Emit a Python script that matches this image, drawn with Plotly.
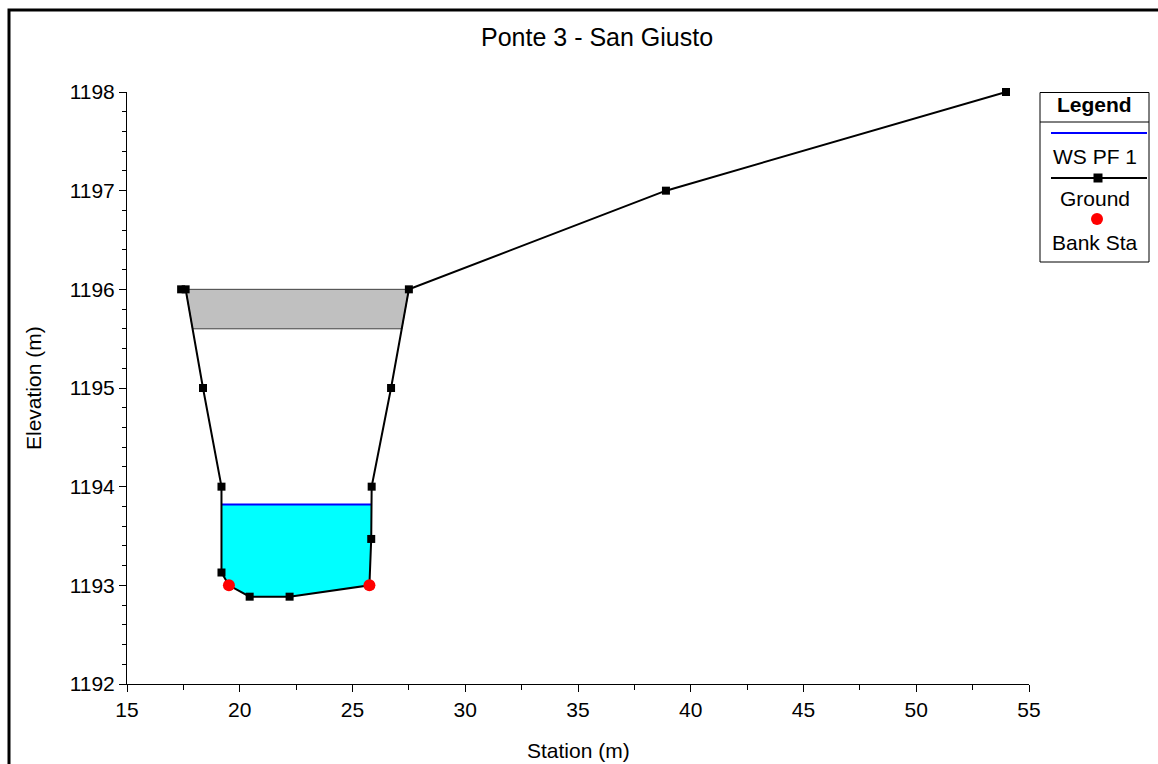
import numpy as np
import plotly.graph_objects as go

# ---- data ----
ground_sta = [17.4, 17.6, 18.37, 19.19, 19.19, 19.52, 20.44, 22.21, 25.75, 25.83, 25.85, 26.71, 27.5, 38.9, 53.98]
ground_elev = [1196.0, 1196.0, 1195.0, 1194.0, 1193.13, 1193.0, 1192.885, 1192.885, 1193.0, 1193.47, 1194.0, 1195.0, 1196.0, 1197.0, 1198.0]
bank_sta = [19.52, 25.75]
bank_elev = [1193.0, 1193.0]
ws_elev = 1193.82
deck_sta = [17.6, 27.5]
deck_high = 1196.0
deck_low = 1195.6
title_text = "Ponte 3 - San Giusto"
x_ticks = [15, 20, 25, 30, 35, 40, 45, 50, 55]
y_ticks = [1192, 1193, 1194, 1195, 1196, 1197, 1198]

FONT = "Liberation Sans, Arial, sans-serif"

gs = np.array(ground_sta)
ge = np.array(ground_elev)


def crossings(level, lo, hi):
    """Stations where the ground crosses a given elevation, within an index range."""
    pts = []
    for i in range(lo, hi):
        a, b = ge[i], ge[i + 1]
        if (a - level) * (b - level) <= 0 and a != b:
            t = (level - a) / (b - a)
            pts.append(gs[i] + t * (gs[i + 1] - gs[i]))
    return pts


# water polygon: ground points below WS between the channel walls
ch_lo, ch_hi = 3, 11
wx = crossings(ws_elev, ch_lo, ch_hi)
left_x, right_x = wx[0], wx[-1]
poly_x = [left_x]
poly_y = [ws_elev]
for s, e in zip(gs[ch_lo:ch_hi + 1], ge[ch_lo:ch_hi + 1]):
    if e < ws_elev:
        poly_x.append(s)
        poly_y.append(e)
poly_x += [right_x, left_x]
poly_y += [ws_elev, ws_elev]

# deck polygon: high chord to low chord, edges following ground
dl = crossings(deck_low, 1, 3)[0]
dr = crossings(deck_low, 11, 13)[0]
deck_x = [deck_sta[0], deck_sta[1], dr, dl, deck_sta[0]]
deck_y = [deck_high, deck_high, deck_low, deck_low, deck_high]

fig = go.Figure()
fig.add_trace(go.Scatter(x=deck_x, y=deck_y, mode="lines", fill="toself",
                         fillcolor="#c0c0c0", line=dict(color="#404040", width=1),
                         showlegend=False, hoverinfo="skip"))
fig.add_trace(go.Scatter(x=poly_x, y=poly_y, mode="lines", fill="toself",
                         fillcolor="#00ffff", line=dict(color="rgba(0,0,0,0)", width=0),
                         showlegend=False, hoverinfo="skip"))
fig.add_trace(go.Scatter(x=[left_x, right_x], y=[ws_elev, ws_elev], mode="lines",
                         line=dict(color="#0000ff", width=2), name="WS PF 1", showlegend=False))
fig.add_trace(go.Scatter(x=ground_sta, y=ground_elev, mode="lines+markers",
                         line=dict(color="black", width=2),
                         marker=dict(symbol="square", size=8, color="black"),
                         name="Ground", showlegend=False, cliponaxis=False))
fig.add_trace(go.Scatter(x=bank_sta, y=bank_elev, mode="markers",
                         marker=dict(symbol="circle", size=12, color="#ff0000"),
                         name="Bank Sta", showlegend=False, cliponaxis=False))

L, R, T, B = 127, 129, 92, 80
W, H = 1158, 764
PW, PH = W - L - R, H - T - B


def px(p):
    return (p - L) / PW


def py(q):
    return (H - B - q) / PH


shapes = []
annotations = []
# outer frame
shapes.append(dict(type="rect", xref="paper", yref="paper", x0=px(9), x1=px(1250),
                   y0=py(850), y1=py(10), line=dict(color="black", width=3)))
# legend box
lx0, lx1, ly0, ly1 = 1040, 1149, 92.5, 262
shapes.append(dict(type="rect", xref="paper", yref="paper", x0=px(lx0), x1=px(lx1),
                   y0=py(ly1), y1=py(ly0), line=dict(color="black", width=1), fillcolor="white"))
shapes.append(dict(type="line", xref="paper", yref="paper", x0=px(lx0), x1=px(lx1),
                   y0=py(122), y1=py(122), line=dict(color="black", width=1)))
shapes.append(dict(type="line", xref="paper", yref="paper", x0=px(1051), x1=px(1147),
                   y0=py(133), y1=py(133), line=dict(color="#0000ff", width=2)))
shapes.append(dict(type="line", xref="paper", yref="paper", x0=px(1051), x1=px(1147),
                   y0=py(178), y1=py(178), line=dict(color="black", width=2)))
shapes.append(dict(type="rect", xref="paper", yref="paper", xsizemode="pixel", ysizemode="pixel",
                   xanchor=px(1098), yanchor=py(178), x0=-4.5, x1=4.5, y0=-4.5, y1=4.5,
                   fillcolor="black", line=dict(width=0)))
shapes.append(dict(type="circle", xref="paper", yref="paper", xsizemode="pixel", ysizemode="pixel",
                   xanchor=px(1097), yanchor=py(219), x0=-6, x1=6, y0=-6, y1=6,
                   fillcolor="#ff0000", line=dict(width=0)))

cx = px((lx0 + lx1) / 2)
for txt, yy, bold in [("Legend", 105, True), ("WS PF 1", 157, False),
                      ("Ground", 198, False), ("Bank Sta", 242, False)]:
    annotations.append(dict(text=f"<b>{txt}</b>" if bold else txt, xref="paper", yref="paper",
                            x=cx, y=py(yy), showarrow=False, xanchor="center", yanchor="middle",
                            font=dict(family=FONT, size=21, color="black")))

annotations.append(dict(text=title_text, xref="paper", yref="paper", x=px(597), y=py(37),
                        showarrow=False, xanchor="center", yanchor="middle",
                        font=dict(family=FONT, size=25, color="black")))
annotations.append(dict(text="Station (m)", xref="paper", yref="paper", x=px(578), y=py(750),
                        showarrow=False, xanchor="center", yanchor="middle",
                        font=dict(family=FONT, size=21, color="black")))
annotations.append(dict(text="Elevation (m)", xref="paper", yref="paper", x=px(33), y=py(388),
                        showarrow=False, xanchor="center", yanchor="middle", textangle=-90,
                        font=dict(family=FONT, size=21, color="black")))

fig.update_layout(
    width=W, height=H,
    margin=dict(l=L, r=R, t=T, b=B),
    paper_bgcolor="white", plot_bgcolor="white",
    showlegend=False,
    shapes=shapes, annotations=annotations,
    font=dict(family=FONT, size=20, color="black"),
)
fig.update_xaxes(range=[15, 55], tickvals=x_ticks, ticktext=[str(v) for v in x_ticks],
                 showgrid=False, zeroline=False, showline=True, linecolor="black", linewidth=1,
                 ticks="outside", ticklen=7, tickcolor="black",
                 minor=dict(dtick=2.5, ticks="outside", ticklen=5, tickcolor="black", showgrid=False),
                 tickfont=dict(family=FONT, size=21, color="black"))
fig.update_yaxes(range=[1192, 1198], tickvals=y_ticks, ticktext=[str(v) for v in y_ticks],
                 showgrid=False, zeroline=False, showline=True, linecolor="black", linewidth=1,
                 ticks="outside", ticklen=7, tickcolor="black",
                 minor=dict(tick0=1192, dtick=0.2, ticks="outside", ticklen=4, tickcolor="black", showgrid=False),
                 tickfont=dict(family=FONT, size=21, color="black"))

fig.write_html("out.html")
